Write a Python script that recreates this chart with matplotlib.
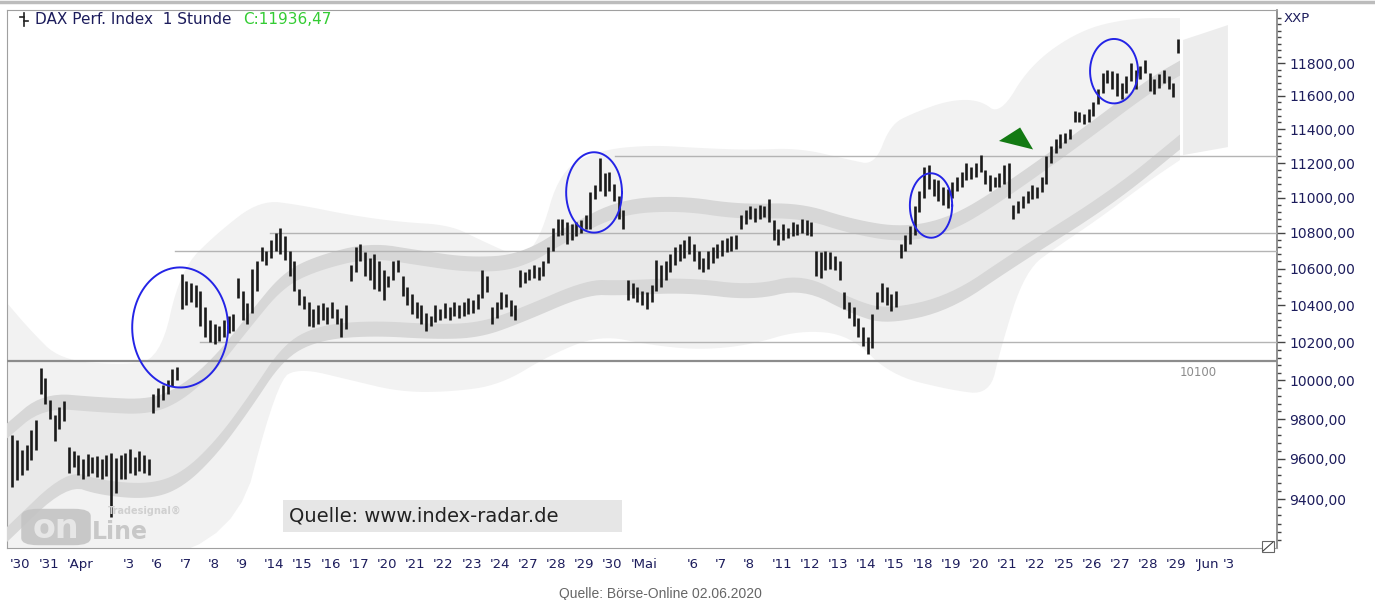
import numpy as np
import matplotlib.pyplot as plt
from matplotlib.lines import Line2D
from matplotlib.patches import FancyBboxPatch, Rectangle
from matplotlib.ticker import FixedLocator, FuncFormatter, NullFormatter

plt.rcParams['font.family'] = ['DejaVu Sans']

# x axis: one slot per trading day (blank = day without label)
day_labels = ['30', '31', 'Apr', '', '3', '6', '7', '8', '9', '14', '15', '16', '17', '20',
              '21', '22', '23', '24', '27', '28', '29', '30', 'Mai', '', '6', '7', '8', '11',
              '12', '13', '14', '15', '18', '19', '20', '21', '22', '25', '26', '27', '28',
              '29', 'Jun', '3']
bars_per_day = 6

# hourly bars (high, low), six per day
highs = [
    9720, 9695, 9645, 9670, 9745, 9795,
    10065, 10010, 9900, 9820, 9860, 9895,
    9660, 9640, 9620, 9600, 9625, 9610,
    9615, 9600, 9620, 9630, 9605, 9620,
    9630, 9650, 9610, 9640, 9620, 9600,
    9930, 9960, 9975, 10000, 10060, 10070,
    10570, 10530, 10520, 10510, 10480, 10390,
    10320, 10300, 10290, 10320, 10340, 10350,
    10550, 10480, 10410, 10600, 10640, 10720,
    10700, 10760, 10800, 10830, 10780, 10700,
    10640, 10490, 10450, 10420, 10380, 10400,
    10410, 10390, 10420, 10380, 10330, 10400,
    10620, 10720, 10740, 10690, 10660, 10680,
    10640, 10590, 10560, 10640, 10650, 10560,
    10500, 10460, 10420, 10400, 10360, 10340,
    10400, 10380, 10410, 10390, 10420, 10400,
    10420, 10440, 10430, 10460, 10590, 10560,
    10390, 10420, 10470, 10460, 10430, 10400,
    10590, 10580, 10600, 10620, 10610, 10640,
    10720, 10830, 10880, 10880, 10860, 10850,
    10860, 10870, 10900, 11030, 11070, 11230,
    11140, 11150, 11080, 11010, 10930, 10540,
    10520, 10500, 10480, 10470, 10510, 10650,
    10620, 10640, 10680, 10720, 10740, 10760,
    10780, 10740, 10700, 10660, 10700, 10720,
    10740, 10760, 10770, 10780, 10790, 10900,
    10930, 10950, 10940, 10960, 10950, 10990,
    10870, 10820, 10850, 10830, 10860, 10850,
    10880, 10870, 10860, 10700, 10690, 10700,
    10690, 10670, 10640, 10470, 10420, 10390,
    10330, 10280, 10230, 10350, 10470, 10520,
    10500, 10460, 10480, 10740, 10790, 10840,
    10950, 11040, 11180, 11190, 11110, 11100,
    11060, 11050, 11090, 11120, 11150, 11200,
    11180, 11200, 11250, 11160, 11130, 11120,
    11140, 11190, 11200, 10960, 10980, 11010,
    11040, 11070, 11060, 11120, 11240, 11300,
    11340, 11370, 11380, 11400, 11510, 11500,
    11490, 11520, 11560, 11640, 11740, 11760,
    11750, 11740, 11680, 11720, 11800, 11760,
    11780, 11820, 11740, 11700, 11730, 11760,
    11720, 11680, 11950,
]
lows = [
    9460, 9495, 9520, 9545, 9595, 9645,
    9930, 9880, 9800, 9690, 9750, 9790,
    9530, 9560, 9520, 9500, 9515, 9530,
    9510, 9500, 9515, 9310, 9430, 9500,
    9500, 9530, 9520, 9540, 9530, 9520,
    9830, 9860, 9900, 9930, 9970, 10000,
    10380, 10400, 10420, 10390, 10290, 10230,
    10200, 10190, 10210, 10230, 10250, 10260,
    10440, 10320, 10300, 10360, 10480, 10640,
    10620, 10660, 10700, 10680, 10650, 10560,
    10480, 10400, 10380, 10290, 10280, 10300,
    10320, 10300, 10330, 10300, 10230, 10270,
    10530, 10580, 10640, 10560, 10540, 10490,
    10480, 10430, 10500, 10540, 10580, 10450,
    10400, 10350, 10330, 10300, 10260, 10290,
    10310, 10320, 10330, 10320, 10340, 10330,
    10340, 10350, 10360, 10380, 10440, 10470,
    10300, 10330, 10380, 10390, 10340, 10320,
    10500, 10520, 10540, 10550, 10540, 10560,
    10630, 10700, 10780, 10790, 10740, 10760,
    10780, 10800, 10820, 10820, 10990, 11040,
    11010, 11040, 10980, 10880, 10820, 10430,
    10440, 10420, 10400, 10380, 10420, 10480,
    10500, 10540, 10580, 10620, 10640, 10660,
    10680, 10640, 10600, 10580, 10600, 10630,
    10660, 10670, 10690, 10700, 10710, 10820,
    10850, 10880, 10860, 10880, 10890, 10860,
    10760, 10730, 10760, 10770, 10780, 10790,
    10800, 10790, 10780, 10560, 10550, 10590,
    10600, 10590, 10540, 10380, 10330, 10290,
    10230, 10180, 10140, 10170, 10380, 10420,
    10400, 10370, 10390, 10660, 10700, 10740,
    10790, 10920, 11000, 11050, 11010, 10980,
    10960, 10940, 11000, 11040, 11060, 11100,
    11110, 11120, 11150, 11080, 11040, 11060,
    11060, 11080, 11000, 10880, 10910, 10940,
    10970, 10990, 11000, 11030, 11080, 11200,
    11260, 11290, 11320, 11340, 11440, 11440,
    11430, 11440, 11480, 11550, 11620, 11680,
    11640, 11600, 11580, 11620, 11690, 11640,
    11700, 11740, 11630, 11610, 11650, 11680,
    11640, 11590, 11860,
]

# channel bands (centre lines) and outer envelope, x in trading days
upper_band_x = [-0.2, 1.17, 3.19, 4.96, 6.13, 7.34, 8.51, 9.68, 10.89, 12.77, 14.54, 16.31,
                18.09, 19.86, 21.63, 23.76, 25.89, 28.01, 29.89, 31.67, 33.33, 35.11, 37.94,
                40.43, 41.49]
upper_band_y = [9729, 9898, 9873, 9862, 9935, 10097, 10320, 10538, 10631, 10704, 10659, 10620,
                10637, 10805, 10947, 10969, 10918, 10929, 10833, 10788, 10844, 11015, 11347,
                11665, 11769]
lower_band_x = [-0.2, 2.02, 3.19, 4.96, 6.13, 7.34, 8.51, 9.68, 10.89, 12.77, 15.14, 16.67,
                18.09, 20.46, 21.63, 24.01, 26.35, 28.12, 29.89, 31.10, 33.33, 35.57, 39.11,
                41.49]
lower_band_y = [9216, 9509, 9455, 9435, 9494, 9659, 9888, 10149, 10250, 10277, 10256, 10266,
                10342, 10499, 10493, 10510, 10466, 10532, 10390, 10336, 10411, 10648, 11004,
                11324]
env_top_x = [-0.2, 0.71, 1.77, 3.90, 5.32, 6.03, 7.34, 8.87, 10.28, 12.06, 13.83, 15.60, 16.67,
             18.09, 18.79, 19.50, 20.92, 22.70, 24.47, 26.24, 28.01, 29.79, 30.67, 31.21,
             32.02, 33.33, 34.40, 35.11, 36.17, 37.94, 39.72, 41.49]
env_top_y = [10428, 10266, 10107, 10081, 10107, 10593, 10799, 10987, 10958, 10900, 10861, 10844,
             10760, 10659, 10760, 11160, 11277, 11306, 11288, 11277, 11288, 11218, 11189,
             11425, 11496, 11575, 11575, 11484, 11788, 12005, 12080, 12080]
env_bot_x = [-0.2, 7.80, 9.47, 10.28, 12.06, 13.83, 15.60, 17.38, 19.15, 20.92, 22.70, 24.47,
             26.24, 28.01, 29.79, 31.21, 33.33, 34.75, 35.11, 36.0, 37.23, 38.65, 40.43, 41.49]
env_bot_y = [9100, 9100, 10002, 10065, 10002, 9940, 9940, 9976, 10134, 10240, 10186, 10160,
             10186, 10266, 10240, 10028, 9950, 9925, 10160, 10593, 10732, 10884, 11101, 11218]

# projection wedge right of the last bar
proj_x = [41.60, 43.19, 43.19, 41.60]
proj_y = [11943, 12036, 11294, 11247]

# support / resistance lines: (level, start day)
levels = [11240, 10800, 10700, 10200]
level_start = [21.45, 9.22, 5.85, 6.74]
main_level = 10100

# marked areas: centre day, centre level, half width (days), half height (log10)
circles = [(6.03, 10280, 1.70, 0.0136), (20.71, 11030, 0.99, 0.0091),
           (32.66, 10955, 0.75, 0.0073), (39.15, 11750, 0.85, 0.0073)]
arrow_x = [35.07, 35.82, 36.28]
arrow_y = [11330, 11410, 11280]

y_major = np.arange(9400, 11801, 200)
y_minor = np.arange(9200, 12101, 40)


def smooth(xs, ys, n=3):
    # corner cutting so the bands look rounded
    p = np.column_stack([xs, np.log10(ys)])
    for _ in range(n):
        q = 0.75 * p[:-1] + 0.25 * p[1:]
        r = 0.25 * p[:-1] + 0.75 * p[1:]
        mid = np.empty((2 * len(q), 2))
        mid[0::2] = q
        mid[1::2] = r
        p = np.vstack([p[:1], mid, p[-1:]])
    return p[:, 0], 10 ** p[:, 1]


W, H = 1375, 600
fig = plt.figure(figsize=(13.75, 6.0), dpi=100)
ax = fig.add_axes([7 / W, 52 / H, 1270 / W, 538 / H])
ax.set_yscale('log')
ax.set_xlim(-0.11, 44.93)
ax.set_ylim(9163, 12131)

# outer envelope
tx, ty = smooth(env_top_x, env_top_y)
bx, by = smooth(env_bot_x, env_bot_y)
ax.fill(np.r_[tx, bx[::-1]], np.r_[ty, by[::-1]], color='#f2f2f2', lw=0, zorder=1)

# channel body and the two darker bands
ux, uy = smooth(upper_band_x, upper_band_y)
lx, ly = smooth(lower_band_x, lower_band_y)
ax.fill(np.r_[ux, lx[::-1]], np.r_[uy, ly[::-1]], color='#e9e9e9', lw=0, zorder=2)
bw = 10 ** 0.0017
for cx, cy in [(ux, uy), (lx, ly)]:
    ax.fill(np.r_[cx, cx[::-1]], np.r_[cy * bw, (cy / bw)[::-1]], color='#d7d7d7', lw=0, zorder=3)

ax.fill(proj_x, proj_y, color='#ededed', lw=0, zorder=1)

# horizontal levels
for lv, x0 in zip(levels, level_start):
    ax.plot([x0, 44.93], [lv, lv], color='#b4b4b4', lw=1.0, zorder=4)
ax.axhline(main_level, color='#8c8c8c', lw=1.6, zorder=4)

# bars
bx_pos = np.arange(len(highs)) / bars_per_day + 0.5 / bars_per_day
ax.vlines(bx_pos, lows, highs, color='#1a1a1a', lw=1.9, zorder=5)

# ellipses and arrow
t = np.linspace(0, 2 * np.pi, 200)
for cx, cy, a, b in circles:
    ax.plot(cx + a * np.cos(t), cy * 10 ** (b * np.sin(t)), color='#2424e6', lw=1.4, zorder=6)
ax.fill(arrow_x, arrow_y, color='#137a13', lw=0, zorder=6)

# axes styling
for s in ['left', 'top', 'bottom']:
    ax.spines[s].set_color('#a0a0a0')
ax.spines['right'].set_color('#808080')
ax.spines['right'].set_linewidth(1.2)
ax.set_xticks([])
ax.yaxis.tick_right()
ax.yaxis.set_major_locator(FixedLocator(y_major))
ax.yaxis.set_minor_locator(FixedLocator(y_minor))
ax.yaxis.set_major_formatter(FuncFormatter(lambda v, p: f'{v:.2f}'.replace('.', ',')))
ax.yaxis.set_minor_formatter(NullFormatter())
ax.tick_params(axis='y', which='major', length=6, width=1, color='#444', labelsize=10,
               labelcolor='#1c1c5c', pad=3)
ax.tick_params(axis='y', which='minor', length=3, width=1, color='#444')

for i, lab in enumerate(day_labels):
    if lab:
        ax.text(i, -0.018, "'" + lab, transform=ax.get_xaxis_transform(), ha='left', va='top',
                fontsize=9.5, color='#1c1c5c', clip_on=False)

# header and frame decorations
fig.add_artist(Line2D([0, 1], [1 - 1.5 / H, 1 - 1.5 / H], color='#bcbcbc', lw=2.5))
fig.add_artist(Line2D([24 / W, 24 / W], [1 - 13 / H, 1 - 26 / H], color='#222', lw=1.2))
fig.add_artist(Line2D([20 / W, 24 / W], [1 - 17 / H, 1 - 17 / H], color='#222', lw=1.2))
fig.add_artist(Line2D([24 / W, 28 / W], [1 - 21 / H, 1 - 21 / H], color='#222', lw=1.2))
fig.text(35 / W, 1 - 19 / H, 'DAX Perf. Index  1 Stunde', fontsize=11, color='#1c1c5c', va='center')
fig.text(243 / W, 1 - 19 / H, 'C:11936,47', fontsize=11, color='#33cc33', va='center')
fig.text(1284 / W, 1 - 18 / H, 'XXP', fontsize=9.5, color='#1c1c5c', va='center')
fig.text(1180 / W, 1 - 373 / H, '10100', fontsize=8.5, color='#8c8c8c', va='center')

# watermark logo
fig.add_artist(FancyBboxPatch((24 / W, 1 - 544 / H), 64 / W, 34 / H,
                              boxstyle='round,pad=0.002,rounding_size=0.012',
                              fc='#c4c4c4', ec='none', alpha=0.9))
fig.text(56 / W, 1 - 528 / H, 'on', fontsize=24, fontweight='bold', color='#e6e6e6',
         ha='center', va='center')
fig.text(92 / W, 1 - 532 / H, 'Line', fontsize=17, fontweight='bold', color='#c8c8c8',
         va='center')
fig.text(108 / W, 1 - 511 / H, 'Tradesignal®', fontsize=7, fontweight='bold',
         color='#d0d0d0', va='center')

# source boxes
fig.add_artist(Rectangle((283 / W, 1 - 532 / H), 339 / W, 32 / H, fc='#e6e6e6', ec='none'))
fig.text(289 / W, 1 - 516 / H, 'Quelle: www.index-radar.de', fontsize=14, color='#222',
         va='center')
fig.add_artist(Rectangle((1262 / W, 1 - 552 / H), 12 / W, 11 / H, fc='white', ec='#666', lw=0.8))
fig.add_artist(Line2D([1263 / W, 1273 / W], [1 - 551 / H, 1 - 542 / H], color='#444', lw=0.8))
fig.text(660 / W, 1 - 594 / H, 'Quelle: Börse-Online 02.06.2020', fontsize=10, color='#666',
         ha='center', va='center', family='Liberation Sans')

fig.savefig('out.png', dpi=100)
